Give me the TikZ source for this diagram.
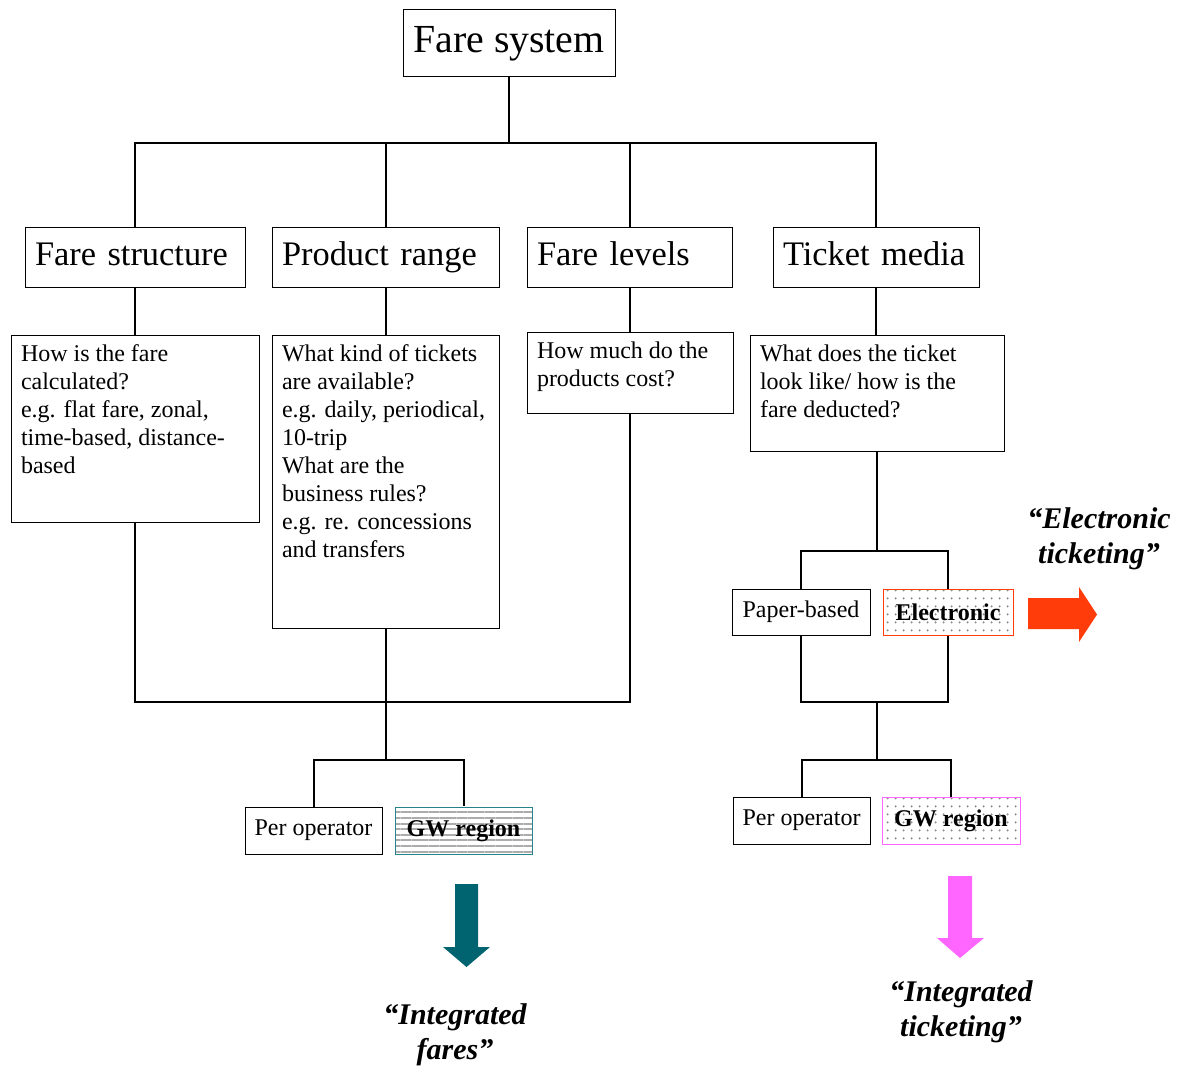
\documentclass[tikz,border=0pt]{standalone}
\usepackage{fontspec}
\setmainfont{Liberation Serif}
\usetikzlibrary{patterns.meta}

\definecolor{gwteal}{RGB}{40,130,140}
\definecolor{arrteal}{RGB}{0,99,112}
\definecolor{gwpink}{RGB}{255,102,255}
\definecolor{elecred}{RGB}{255,60,10}

\newcommand{\desctext}[3]{\parbox[c][#2][t]{#1}{\raggedright #3}}

\begin{document}
\begin{tikzpicture}
  [
     x=0.5pt, y=-0.5pt,
     box/.style={draw,
                 line width=0.5pt,
                 inner sep=0pt},
     head/.style={box,
                  minimum height=30pt,
                  inner xsep=5pt,
                  text width=#1,
                  text height=13pt,
                  text depth=5pt,
                  align=left,
                  font=\fontsize{17.2}{20}\selectfont},
     desc/.style={draw,
                  line width=0.5pt,
                  inner xsep=5pt,
                  inner ysep=5pt,
                  font=\fontsize{12}{14}\selectfont},
     small/.style={box,
                   minimum width=68.5pt,
                   minimum height=23.5pt,
                   font=\fontsize{12}{14}\selectfont},
     striped/.style={pattern={Lines[distance=2.8pt,angle=0,line width=1pt]},
                     pattern color=gray!65},
     dotted/.style={pattern={Dots[distance=4pt,radius=0.65pt]},
                    pattern color=gray!90},
     quote/.style={align=center,
                   font=\fontsize{15}{17.5}\selectfont\bfseries\itshape},
     conn/.style={line width=1pt}
  ]
    \useasboundingbox (0,0) rectangle (1183,1070);

    % top
    \node[box, minimum width=106pt, minimum height=33.5pt,
          font=\fontsize{19.9}{24}\selectfont] (sys) at (509,43.5) {Fare system};

    \node[head=100pt] (fs) at (135,257) {Fare structure};
    \node[head=103.5pt] (pr) at (385.5,257) {Product range};
    \node[head=92.5pt] (fl) at (629.5,257) {Fare levels};
    \node[head=93pt] (tm) at (876,257) {Ticket media};

    % questions
    \node[desc] (fsd) at (135,428.5) {\desctext{114pt}{83.5pt}{How is the fare\\ calculated?\\ e.g. flat fare, zonal,\\ time-based, distance-\\ based}};
    \node[desc] (prd) at (385.5,481.5) {\desctext{103.5pt}{136.5pt}{What kind of tickets\\ are available?\\ e.g. daily, periodical,\\ 10-trip\\ What are the\\ business rules?\\ e.g. re. concessions\\ and transfers}};
    \node[desc] (fld) at (630,372.5) {\desctext{93pt}{30.5pt}{How much do the\\ products cost?}};
    \node[desc] (tmd) at (877,393) {\desctext{117pt}{48pt}{What does the ticket\\ look like/ how is the\\ fare deducted?}};

    % options
    \node[small] (opL) at (313.5,830.5) {Per operator};
    \node[small, striped, draw=gwteal] (gwL) at (463.5,830.5) {\textbf{GW region}};
    \node[small, minimum width=69pt, minimum height=23pt] (paper) at (801,612) {Paper-based};
    \node[small, minimum width=65pt, minimum height=23pt, dotted, draw=elecred] (elec) at (948,612) {\textbf{Electronic}};
    \node[small] (opR) at (801.5,820.5) {Per operator};
    \node[small, minimum width=69pt, dotted, draw=gwpink] (gwR) at (951,820.5) {\textbf{GW region}};

    \coordinate (bus) at (0,143);
    \coordinate (busL) at (0,702);
    \coordinate (forkL) at (0,760);
    \coordinate (busR1) at (0,551);
    \coordinate (busR2) at (0,702);
    \coordinate (busR3) at (0,760);

    % connectors
    \draw[conn] (sys.south) -- (sys.south |- bus);
    \draw[conn] (fs.north) -- (fs.north |- bus) -- (tm.north |- bus) -- (tm.north);
    \draw[conn] (pr.north) -- (pr.north |- bus);
    \draw[conn] (fl.north) -- (fl.north |- bus);
    \draw[conn] (fs) -- (fsd);
    \draw[conn] (pr) -- (prd);
    \draw[conn] (fl.south) -- (fl.south |- fld.north);
    \draw[conn] (tm.south) -- (tm.south |- tmd.north);

    \draw[conn] (fsd.south) -- (fsd.south |- busL) -- (fld.south |- busL) -- (fld.south);
    \draw[conn] (prd.south) -- (prd.south |- forkL);
    \draw[conn] (opL.north) -- (opL.north |- forkL) -- (gwL.north |- forkL) -- (gwL.north);

    \draw[conn] (tmd.south) -- (tmd.south |- busR1);
    \draw[conn] (paper.north) -- (paper.north |- busR1) -- (elec.north |- busR1) -- (elec.north);
    \draw[conn] (paper.south) -- (paper.south |- busR2) -- (elec.south |- busR2) -- (elec.south);
    \draw[conn] (tmd.south |- busR2) -- (tmd.south |- busR3);
    \draw[conn] (opR.north) -- (opR.north |- busR3) -- (gwR.north |- busR3) -- (gwR.north);

    % block arrows
    \fill[elecred] (1028,598) -- (1079,598) -- (1079,587) -- (1097,614.5)
                   -- (1079,642) -- (1079,629) -- (1028,629) -- cycle;
    \fill[arrteal] (455,884) -- (478,884) -- (478,947) -- (490,947)
                   -- (466.5,967) -- (443,947) -- (455,947) -- cycle;
    \fill[gwpink] (948,876) -- (972,876) -- (972,938) -- (984,938)
                  -- (960,958) -- (937,938) -- (948,938) -- cycle;

    \node[quote] (etxt) at (1099,539) {“Electronic\\ ticketing”};
    \node[quote] (ftxt) at (455,1035) {“Integrated\\ fares”};
    \node[quote] (ttxt) at (961,1012) {“Integrated\\ ticketing”};
\end{tikzpicture}
\end{document}
